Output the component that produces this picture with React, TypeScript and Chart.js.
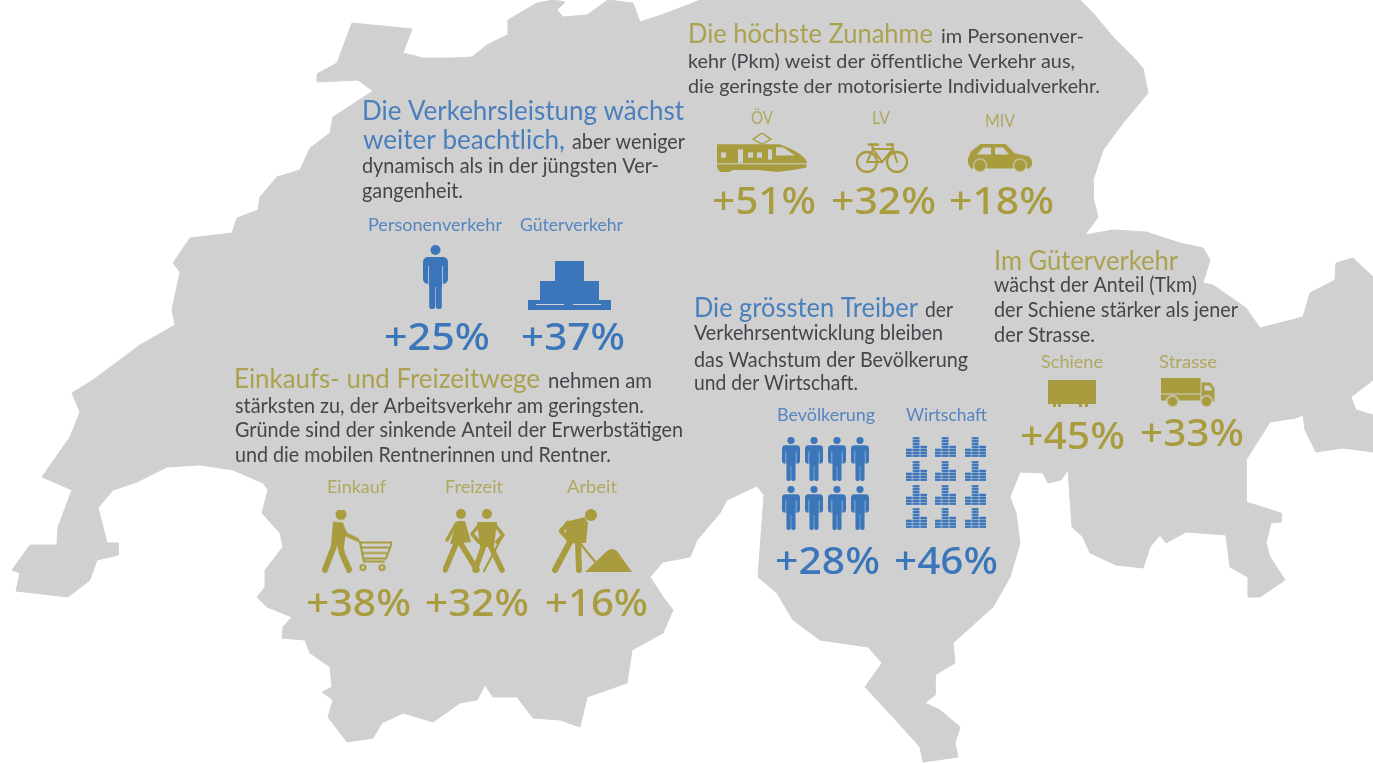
import React, { useEffect, useRef } from "react";
import { Chart, registerables } from "chart.js";

Chart.register(...registerables);

// ---- map outline of Switzerland, as [x, y] on a 1373 x 763 plane
const northBorder = [[352,23],[412,29],[403,53],[423,58],[453,58],[472,57],[487,45],[507,35],[508,20],[537,3],[553,0],[565,2],[557,10],[563,17],[587,15],[608,0],[633,3],[640,22],[667,13],[693,3],[700,0],[1080,0]];
const eastBorder = [[1093,13],[1113,37],[1133,57],[1143,68],[1148,93],[1123,123],[1103,150],[1093,180],[1093,197],[1098,217],[1085,235],[1113,230],[1146,232],[1180,243],[1203,248],[1210,260],[1203,283],[1213,285],[1246,308],[1260,328],[1303,317],[1310,293],[1335,280],[1336,263],[1353,258],[1373,277],[1373,380],[1351,397],[1356,410],[1373,415],[1373,452],[1343,448],[1316,452],[1305,430],[1303,415],[1296,418],[1270,422],[1246,460],[1246,502],[1281,513],[1281,522],[1271,523],[1266,543],[1270,557],[1285,580],[1260,597],[1248,597],[1248,577],[1230,567],[1226,535],[1186,532],[1166,543],[1160,535],[1150,547],[1143,568],[1116,565],[1090,553],[1083,537],[1072,527],[1068,470],[1061,480],[1048,483],[1043,473],[1020,472],[1010,497],[1016,513],[1020,543]];
const southBorder = [[1010,577],[993,607],[953,643],[955,663],[935,675],[935,695],[925,703],[940,710],[960,727],[955,743],[958,757],[923,762],[920,747],[893,717],[865,687],[882,663],[868,647],[820,640],[793,620],[777,593],[758,577],[764,495],[757,486],[727,500],[720,513],[697,540],[690,557],[663,562],[650,577],[663,597],[673,610],[663,633],[632,650],[627,683],[587,697],[580,727],[560,720],[533,718],[517,697],[493,697],[485,685],[477,700],[460,703],[433,722],[403,713],[382,723],[373,738],[347,742]];
const westBorder = [[328,717],[333,700],[322,692],[332,687],[330,667],[310,653],[305,640],[282,638],[283,627],[292,617],[267,607],[257,597],[265,587],[265,570],[283,547],[280,533],[262,513],[268,490],[263,483],[233,470],[200,465],[167,467],[137,482],[113,490],[98,508],[102,523],[107,543],[118,543],[118,555],[97,560],[90,580],[68,597],[16,591],[20,573],[12,570],[30,545],[57,545],[58,527],[72,490],[42,477],[70,437],[80,412],[72,393],[93,380],[140,345],[175,325],[172,310],[180,272],[173,263],[190,238],[232,233],[237,218],[258,210],[260,197],[277,177],[300,170],[310,148],[330,133],[333,117],[373,91],[358,80],[317,82],[317,74],[337,63],[352,23]];

// ---- categories and values
const overallCategories = ["Personenverkehr", "Güterverkehr"];
const overallValues = [25, 37];
const modeCategories = ["ÖV", "LV", "MIV"];
const modeValues = [51, 32, 18];
const purposeCategories = ["Einkauf", "Freizeit", "Arbeit"];
const purposeValues = [38, 32, 16];
const driverCategories = ["Bevölkerung", "Wirtschaft"];
const driverValues = [28, 46];
const freightCategories = ["Schiene", "Strasse"];
const freightValues = [45, 33];

const pct = (v: number) => `+${v}%`;

const BLUE = "#3a76b9";
const BLUE_HEAD = "#4a7fbd";
const BLUE_LABEL = "#5585bf";
const OLIVE = "#a89c3e";
const OLIVE_HEAD = "#aba24f";
const OLIVE_LABEL = "#b0a860";
const DARK = "#45454c";

type T = [string, number, number, number, string, number, string];
// text, left, right, baseline, colour, size, weight
const NUM = 38;
const NUMW = "500";
const texts: T[] = [
  ["Die Verkehrsleistung wächst", 362, 684, 120, BLUE_HEAD, 26, "400"],
  ["weiter beachtlich,", 363, 565, 149, BLUE_HEAD, 26, "400"],
  ["aber weniger", 572, 685, 149, DARK, 21, "400"],
  ["dynamisch als in der jüngsten Ver-", 362, 659, 173, DARK, 21, "400"],
  ["gangenheit.", 362, 463, 198, DARK, 21, "400"],
  [overallCategories[0], 368, 502, 231, BLUE_LABEL, 18, "400"],
  [overallCategories[1], 520, 623, 231, BLUE_LABEL, 18, "400"],
  [pct(overallValues[0]), 384, 490, 350, BLUE, NUM, NUMW],
  [pct(overallValues[1]), 521, 625, 350, BLUE, NUM, NUMW],

  ["Die höchste Zunahme", 688, 933, 43, OLIVE_HEAD, 26, "400"],
  ["im Personenver-", 941, 1084, 43, DARK, 20, "400"],
  ["kehr (Pkm) weist der öffentliche Verkehr aus,", 688, 1075, 68, DARK, 20, "400"],
  ["die geringste der motorisierte Individualverkehr.", 688, 1100, 93, DARK, 20, "400"],
  [modeCategories[0], 751, 773, 124, OLIVE_LABEL, 17, "400"],
  [modeCategories[1], 872, 890, 124, OLIVE_LABEL, 17, "400"],
  [modeCategories[2], 985, 1015, 127, OLIVE_LABEL, 17, "400"],
  [pct(modeValues[0]), 712, 816, 214, OLIVE, NUM, NUMW],
  [pct(modeValues[1]), 831, 936, 214, OLIVE, NUM, NUMW],
  [pct(modeValues[2]), 949, 1054, 214, OLIVE, NUM, NUMW],

  ["Einkaufs- und Freizeitwege", 234, 540, 388, OLIVE_HEAD, 26, "400"],
  ["nehmen am", 548, 652, 388, DARK, 21, "400"],
  ["stärksten zu, der Arbeitsverkehr am geringsten.", 235, 644, 413, DARK, 21, "400"],
  ["Gründe sind der sinkende Anteil der Erwerbstätigen", 235, 683, 437, DARK, 21, "400"],
  ["und die mobilen Rentnerinnen und Rentner.", 235, 611, 462, DARK, 21, "400"],
  [purposeCategories[0], 327, 386, 493, OLIVE_LABEL, 18, "400"],
  [purposeCategories[1], 445, 503, 493, OLIVE_LABEL, 18, "400"],
  [purposeCategories[2], 567, 617, 493, OLIVE_LABEL, 18, "400"],
  [pct(purposeValues[0]), 306, 411, 616, OLIVE, NUM, NUMW],
  [pct(purposeValues[1]), 425, 529, 616, OLIVE, NUM, NUMW],
  [pct(purposeValues[2]), 545, 648, 616, OLIVE, NUM, NUMW],

  ["Die grössten Treiber", 694, 918, 317, BLUE_HEAD, 26, "400"],
  ["der", 925, 953, 317, DARK, 21, "400"],
  ["Verkehrsentwicklung bleiben", 694, 943, 340, DARK, 21, "400"],
  ["das Wachstum der Bevölkerung", 694, 968, 367, DARK, 21, "400"],
  ["und der Wirtschaft.", 694, 858, 390, DARK, 21, "400"],
  [driverCategories[0], 777, 875, 421, BLUE_LABEL, 18, "400"],
  [driverCategories[1], 906, 987, 421, BLUE_LABEL, 18, "400"],
  [pct(driverValues[0]), 775, 880, 574, BLUE, NUM, NUMW],
  [pct(driverValues[1]), 894, 998, 574, BLUE, NUM, NUMW],

  ["Im Güterverkehr", 994, 1178, 270, OLIVE_HEAD, 26, "400"],
  ["wächst der Anteil (Tkm)", 994, 1197, 292, DARK, 21, "400"],
  ["der Schiene stärker als jener", 994, 1238, 317, DARK, 21, "400"],
  ["der Strasse.", 994, 1095, 342, DARK, 21, "400"],
  [freightCategories[0], 1041, 1103, 368, OLIVE_LABEL, 18, "400"],
  [freightCategories[1], 1159, 1217, 368, OLIVE_LABEL, 18, "400"],
  [pct(freightValues[0]), 1020, 1125, 449, OLIVE, NUM, NUMW],
  [pct(freightValues[1]), 1140, 1244, 446, OLIVE, NUM, NUMW],
];

// ---- pictograms, each one is drawn into a little canvas and used as a point style
type C = CanvasRenderingContext2D;
function icon(w: number, h: number, dw: number, dh: number, draw: (c: C) => void) {
  const cv = document.createElement("canvas");
  cv.width = w;
  cv.height = h;
  const c = cv.getContext("2d") as C;
  c.scale(w / dw, h / dh);
  c.lineCap = "round";
  c.lineJoin = "round";
  draw(c);
  return cv;
}
const poly = (c: C, pts: number[][]) => {
  c.beginPath();
  pts.forEach((p, i) => (i ? c.lineTo(p[0], p[1]) : c.moveTo(p[0], p[1])));
  c.closePath();
  c.fill();
};
const seg = (c: C, pts: number[][], lw: number) => {
  c.lineWidth = lw;
  c.beginPath();
  pts.forEach((p, i) => (i ? c.lineTo(p[0], p[1]) : c.moveTo(p[0], p[1])));
  c.stroke();
};
const disc = (c: C, x: number, y: number, r: number) => {
  c.beginPath();
  c.arc(x, y, r, 0, Math.PI * 2);
  c.fill();
};
const erase = (c: C, fn: () => void) => {
  c.globalCompositeOperation = "destination-out";
  fn();
  c.globalCompositeOperation = "source-over";
};
const setCol = (c: C, col: string) => {
  c.fillStyle = col;
  c.strokeStyle = col;
};

const person = (c: C) => {
  setCol(c, BLUE);
  disc(c, 12.5, 5, 5);
  c.beginPath();
  c.roundRect(0, 12, 25, 27, 5);
  c.fill();
  c.fillRect(6, 30, 13, 12);
  c.beginPath();
  c.roundRect(6.2, 38, 6, 26, 2.5);
  c.roundRect(12.8, 38, 6, 26, 2.5);
  c.fill();
  erase(c, () => {
    c.fillRect(5, 21, 0.8, 20);
    c.fillRect(19.2, 21, 0.8, 20);
    c.fillRect(0, 39, 6, 3);
    c.fillRect(19, 39, 6, 3);
  });
};
const pallet = (c: C) => {
  setCol(c, BLUE);
  c.fillRect(27, 0, 29, 20);
  c.fillRect(12, 20, 59, 20);
  c.fillRect(0, 39, 83, 10);
  erase(c, () => {
    c.fillRect(8, 43, 28, 1);
    c.fillRect(45, 43, 28, 1);
  });
};
const train = (c: C) => {
  setCol(c, OLIVE);
  c.lineWidth = 1.3;
  c.beginPath();
  c.moveTo(45, 0); c.lineTo(54, 6); c.lineTo(45, 11); c.lineTo(36, 6); c.closePath();
  c.stroke();
  c.beginPath();
  c.moveTo(0, 11); c.lineTo(62, 11);
  c.quadraticCurveTo(84, 18, 90, 28);
  c.lineTo(89, 34); c.lineTo(76, 36); c.lineTo(60, 38); c.lineTo(42, 36); c.lineTo(16, 36); c.lineTo(12, 38); c.lineTo(3, 38); c.lineTo(0, 34);
  c.closePath();
  c.fill();
  erase(c, () => {
    c.fillRect(4, 19, 5, 5);
    c.fillRect(21, 16, 5, 13);
    c.fillRect(31, 19, 5, 5);
    c.fillRect(40, 19, 5, 5);
    c.fillRect(51, 16, 4, 10);
    c.beginPath();
    c.moveTo(59, 14); c.lineTo(66, 14); c.lineTo(78, 22); c.lineTo(59, 22); c.closePath();
    c.fill();
    c.fillRect(0, 29.5, 90, 1);
  });
};
const bike = (c: C) => {
  setCol(c, OLIVE);
  c.lineWidth = 2.3;
  c.beginPath(); c.arc(11, 19, 10, 0, Math.PI * 2); c.stroke();
  c.beginPath(); c.arc(41, 19, 10, 0, Math.PI * 2); c.stroke();
  seg(c, [[11, 19], [17, 6], [37, 6], [41, 19]], 2);
  seg(c, [[11, 19], [26, 19], [37, 6]], 2);
  seg(c, [[17, 6], [26, 19]], 2);
  seg(c, [[13, 1.5], [22, 1.5]], 2.4);
  seg(c, [[16, 2], [17, 6]], 2);
  seg(c, [[31, 1.5], [37, 1.5]], 2.4);
  seg(c, [[36, 1.5], [37, 6]], 2);
};
const car = (c: C) => {
  setCol(c, OLIVE);
  c.beginPath();
  c.moveTo(13, 0); c.lineTo(37, 0); c.lineTo(47, 10); c.lineTo(60, 12.5);
  c.quadraticCurveTo(65, 15, 64, 22); c.lineTo(61, 25); c.lineTo(3, 25);
  c.quadraticCurveTo(-1, 20, 0, 15); c.lineTo(3, 8); c.closePath();
  c.fill();
  erase(c, () => {
    poly(c, [[9, 11], [15, 4], [23, 4], [23, 11]]);
    poly(c, [[27, 4], [35, 4], [41, 11], [27, 11]]);
    disc(c, 12, 22, 7);
    disc(c, 52, 22, 7);
  });
  disc(c, 12, 22, 6);
  disc(c, 52, 22, 6);
};
const shopper = (c: C) => {
  setCol(c, OLIVE);
  disc(c, 19, 5, 5.5);
  poly(c, [[11, 12], [21, 13], [24, 22], [22, 37], [9, 37]]);
  seg(c, [[19, 16], [24, 25], [35, 30]], 4);
  seg(c, [[13, 34], [3, 60]], 6);
  seg(c, [[18, 34], [20, 44], [27, 60]], 6);
  seg(c, [[35, 29], [38, 33], [42, 52], [62, 52]], 2);
  seg(c, [[38, 33], [70, 33], [64, 49], [41, 49]], 2);
  seg(c, [[39, 38], [68, 38]], 2);
  seg(c, [[40, 43.5], [66, 43.5]], 2);
  c.lineWidth = 2.2;
  c.beginPath(); c.arc(41, 58, 2.5, 0, Math.PI * 2); c.stroke();
  c.beginPath(); c.arc(60, 58, 2.5, 0, Math.PI * 2); c.stroke();
};
const walkers = (c: C) => {
  setCol(c, OLIVE);
  disc(c, 18, 5, 5);
  disc(c, 44, 5, 5);
  poly(c, [[14, 12], [22, 12], [28, 33], [7, 35]]);
  seg(c, [[13, 15], [4, 31]], 3.4);
  seg(c, [[13, 35], [2, 61]], 5.5);
  seg(c, [[18, 35], [34, 61]], 5.5);
  poly(c, [[34, 13], [54, 13], [51, 38], [37, 38]]);
  seg(c, [[36, 16], [29, 25], [36, 33]], 3.6);
  seg(c, [[52, 16], [60, 26], [54, 33]], 3.6);
  seg(c, [[41, 36], [32, 61]], 5.5);
  seg(c, [[47, 36], [59, 61]], 5.5);
  seg(c, [[59, 28], [41, 62]], 2.2);
};
const worker = (c: C) => {
  setCol(c, OLIVE);
  disc(c, 39, 6, 6);
  poly(c, [[13, 13], [33, 8], [36, 14], [34, 34], [15, 34]]);
  seg(c, [[16, 14], [9, 22], [17, 31], [27, 33]], 4.5);
  seg(c, [[18, 33], [3, 61]], 6);
  seg(c, [[26, 33], [27, 61]], 6);
  seg(c, [[27, 33], [44, 54]], 2.2);
  c.beginPath();
  c.moveTo(33, 63); c.lineTo(55, 42);
  c.quadraticCurveTo(60, 38, 65, 42);
  c.lineTo(80, 63);
  c.closePath();
  c.fill();
};
const wagon = (c: C) => {
  setCol(c, OLIVE);
  c.fillRect(0, 0, 48, 24);
  c.fillRect(5, 24, 3, 3);
  c.fillRect(10, 24, 3, 3);
  c.fillRect(31, 24, 3, 3);
  c.fillRect(37, 24, 3, 3);
};
const truck = (c: C) => {
  setCol(c, OLIVE);
  c.fillRect(0, 0, 40, 23);
  poly(c, [[41, 5], [50, 5], [54, 11], [54, 24], [41, 24]]);
  erase(c, () => {
    poly(c, [[44, 8], [49, 8], [52, 13], [44, 13]]);
    c.fillRect(0, 16, 40, 1);
    disc(c, 12, 24, 6.5);
    disc(c, 46, 24, 6.5);
  });
  disc(c, 12, 24, 5);
  disc(c, 46, 24, 5);
};
const miniChart = (c: C) => {
  setCol(c, BLUE);
  const stack = (x: number, w: number, n: number) => {
    for (let i = 0; i < n; i++) c.fillRect(x, 17.5 - i * 2.9, w, 2.4);
  };
  stack(0, 6.3, 3);
  stack(7, 6.3, 7);
  stack(14, 6.3, 4);
};

// icon centres on the plane
const iconPoints = [
  { x: 435.5, y: 277, s: () => icon(25, 64, 25, 64, person) },
  { x: 569.5, y: 285.5, s: () => icon(83, 49, 83, 49, pallet) },
  { x: 762, y: 153, s: () => icon(90, 40, 90, 39, train) },
  { x: 882, y: 158, s: () => icon(52, 30, 52, 30, bike) },
  { x: 1000.5, y: 158, s: () => icon(65, 29, 65, 29, car) },
  { x: 357, y: 541, s: () => icon(70, 63, 70, 63, shopper) },
  { x: 474, y: 541, s: () => icon(62, 64, 62, 64, walkers) },
  { x: 592, y: 541, s: () => icon(80, 64, 80, 64, worker) },
  { x: 1072, y: 393.5, s: () => icon(48, 27, 48, 27, wagon) },
  { x: 1188, y: 392.5, s: () => icon(55, 30, 55, 30, truck) },
  ...[791, 814, 837, 860].flatMap((x) =>
    [459, 508].map((y) => ({ x, y, s: () => icon(18, 44, 25, 64, person) }))
  ),
  ...[916, 945, 975].flatMap((x) =>
    [447, 471, 495, 518].map((y) => ({ x, y, s: () => icon(21, 20, 20, 20, miniChart) }))
  ),
];

const textPlugin = {
  id: "infographicText",
  afterDatasetsDraw(chart: any) {
    const { ctx, scales } = chart;
    ctx.save();
    ctx.textBaseline = "alphabetic";
    ctx.textAlign = "left";
    for (const [text, x0, x1, base, color, size, weight] of texts) {
      const family = weight === "500" ? '"Noto Sans", sans-serif' : 'Lato, "Noto Sans", sans-serif';
      ctx.font = `${weight} ${size}px ${family}`;
      ctx.fillStyle = color;
      const left = scales.x.getPixelForValue(x0);
      const right = scales.x.getPixelForValue(x1);
      const y = scales.y.getPixelForValue(base);
      const k = (right - left) / ctx.measureText(text).width;
      ctx.save();
      ctx.translate(left, y);
      ctx.scale(k, 1);
      ctx.fillText(text, 0, 0);
      ctx.restore();
    }
    ctx.restore();
  },
};

export default function App() {
  const ref = useRef<HTMLCanvasElement>(null);
  useEffect(() => {
    const outline = [...northBorder, ...eastBorder, ...southBorder, ...westBorder].map(([x, y]) => ({ x, y }));
    const chart = new Chart(ref.current as HTMLCanvasElement, {
      type: "scatter",
      data: {
        datasets: [
          {
            label: "Piktogramme",
            data: iconPoints.map(({ x, y }) => ({ x, y })),
            pointStyle: iconPoints.map((p) => p.s()) as any,
            pointRadius: 10,
            showLine: false,
            order: 0,
          },
          {
            label: "Schweiz",
            data: outline,
            showLine: true,
            fill: "shape",
            tension: 0,
            backgroundColor: "#d0d0d0",
            borderColor: "#d0d0d0",
            borderWidth: 1,
            pointRadius: 0,
            order: 1,
          },
        ],
      },
      options: {
        animation: false,
        responsive: false,
        events: [],
        layout: { padding: 0, autoPadding: false },
        scales: {
          x: { type: "linear", min: 0, max: 1373, display: false },
          y: { type: "linear", min: 0, max: 763, reverse: true, display: false },
        },
        plugins: { legend: { display: false }, tooltip: { enabled: false } },
      },
      plugins: [textPlugin],
    } as any);
    return () => chart.destroy();
  }, []);
  return (
    <div style={{ position: "absolute", left: 0, top: 0, width: 1373, height: 763, overflow: "hidden", background: "#fff" }}>
      <canvas ref={ref} width={1373} height={763} style={{ display: "block", width: 1373, height: 763, filter: "blur(0.6px)" }} />
    </div>
  );
}
